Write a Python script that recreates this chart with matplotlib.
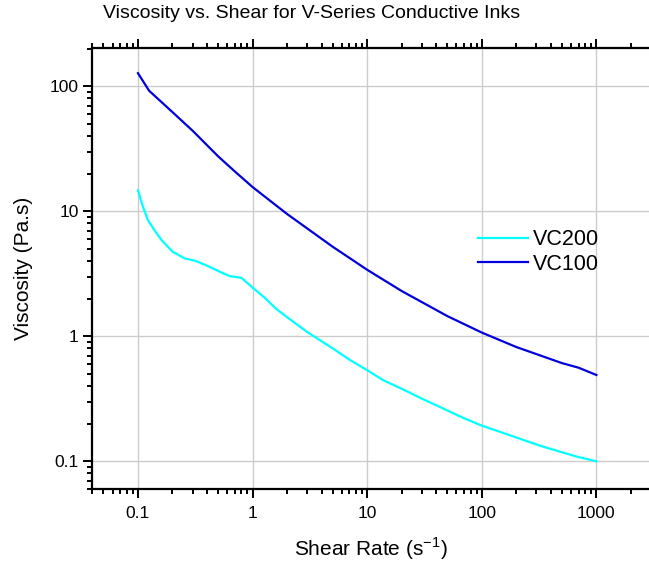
import numpy as np
import matplotlib
matplotlib.use("Agg")
import matplotlib.pyplot as plt
from matplotlib.ticker import LogLocator, FixedLocator, NullFormatter

plt.rcParams['font.family'] = ['Liberation Sans', 'DejaVu Sans']

## data
shear_vc200 = [0.1, 0.11, 0.122, 0.14, 0.16, 0.2, 0.255, 0.32, 0.42, 0.52, 0.63, 0.8, 1.0, 1.3, 1.6, 2.0, 3.0, 5.0, 7.0,
               10, 13.8, 20, 30, 50, 70, 100, 200, 316, 500, 700, 1000]
visc_vc200 = [14.7, 11.0, 8.5, 7.0, 5.9, 4.75, 4.2, 4.0, 3.6, 3.27, 3.03, 2.93, 2.45, 2.0, 1.66, 1.42, 1.08, 0.8, 0.65,
              0.535, 0.445, 0.38, 0.317, 0.255, 0.221, 0.193, 0.155, 0.134, 0.118, 0.108, 0.1]

shear_vc100 = [0.1, 0.125, 0.2, 0.3, 0.5, 0.7, 1.0, 2.0, 5.0, 10, 20, 50, 100, 200, 500, 700, 1000]
visc_vc100 = [127, 92, 62, 44, 27.5, 20.8, 15.6, 9.5, 5.2, 3.4, 2.3, 1.45, 1.07, 0.82, 0.61, 0.56, 0.49]

xticks = [0.1, 1, 10, 100, 1000]
xlabels = ['0.1', '1', '10', '100', '1000']
yticks = [0.1, 1, 10, 100]
ylabels = ['0.1', '1', '10', '100']

fig = plt.figure(figsize=(6.49, 5.62), dpi=100)
ax = fig.add_axes([92 / 649, 1 - 489 / 562, 1 - 92 / 649, (489 - 48) / 562])

ax.plot(shear_vc200, visc_vc200, color='#00ffff', lw=1.6, label='VC200')
ax.plot(shear_vc100, visc_vc100, color='#0000dd', lw=1.6, label='VC100')

ax.set_xscale('log')
ax.set_yscale('log')
ax.set_xlim(0.0397, 2880)
ax.set_ylim(0.06, 202)

ax.xaxis.set_major_locator(FixedLocator(xticks))
ax.set_xticklabels(xlabels)
ax.yaxis.set_major_locator(FixedLocator(yticks))
ax.set_yticklabels(ylabels)
ax.xaxis.set_minor_locator(LogLocator(base=10, subs=np.arange(2, 10), numticks=20))
ax.yaxis.set_minor_locator(LogLocator(base=10, subs=np.arange(2, 10), numticks=20))
ax.xaxis.set_minor_formatter(NullFormatter())
ax.yaxis.set_minor_formatter(NullFormatter())

ax.grid(True, which='major', color='#cccccc', lw=1)
ax.set_axisbelow(True)

ax.spines['right'].set_visible(False)
for s in ['left', 'top', 'bottom']:
    ax.spines[s].set_linewidth(1.6)
ax.tick_params(which='both', direction='out', top=True, right=False, labeltop=False, width=1.4, labelsize=12.5)
ax.tick_params(which='major', length=6.5)
ax.tick_params(which='minor', length=3.8)
ax.tick_params(axis='x', which='major', pad=6)
ax.tick_params(axis='y', which='major', pad=3)

ax.set_xlabel('Shear Rate (s$^{\\mathregular{-1}}$)', fontsize=15, labelpad=10)
ax.set_ylabel('Viscosity (Pa.s)', fontsize=15, labelpad=12)
fig.text(312 / 649, 1 - 14 / 562, 'Viscosity vs. Shear for V-Series Conductive Inks', ha='center', va='center', fontsize=14)

fig.legend(loc='center left', bbox_to_anchor=(478 / 649, 1 - 252 / 562), frameon=False, fontsize=15.5,
           handlelength=2.3, handletextpad=0.25, labelspacing=0.15, borderpad=0, borderaxespad=0)

fig.savefig('out.png', dpi=100)
